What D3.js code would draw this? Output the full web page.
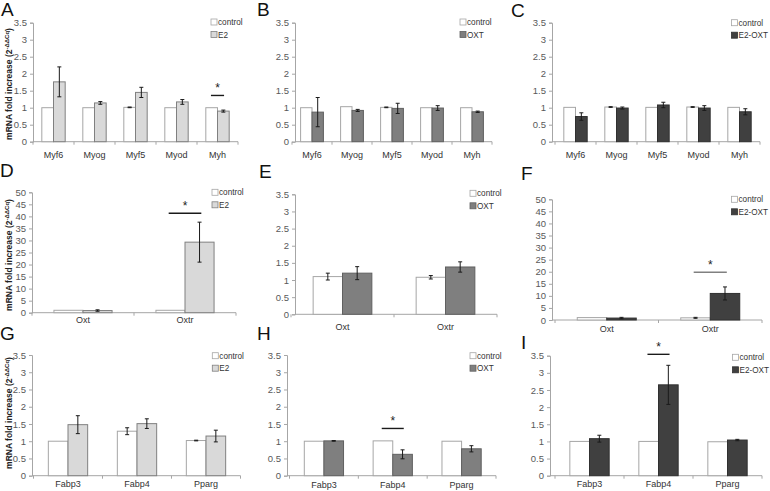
<!DOCTYPE html>
<html><head><meta charset="utf-8">
<script src="https://cdn.jsdelivr.net/npm/d3@7"></script>
<style>body{margin:0;background:#fff}svg{display:block;font-family:"Liberation Sans",Arial,sans-serif}</style>
</head><body><svg id="c" width="770" height="491"></svg>
<script>
// ---------- DATA ----------
const muscleGenes = ["Myf6","Myog","Myf5","Myod","Myh"];
const oxtGenes = ["Oxt","Oxtr"];
const adipoGenes = ["Fabp3","Fabp4","Pparg"];
const ticksLow = [0,0.5,1,1.5,2,2.5,3,3.5];
const ticksHigh = [0,5,10,15,20,25,30,35,40,45,50];
const seriesNames = ["control","E2","OXT","E2-OXT"];

const A_control = [1.0,1.0,1.01,1.0,1.0];
const A_control_err = [0,0,0.01,0,0];
const A_treat = [1.76,1.14,1.45,1.17,0.90];
const A_treat_err = [0.44,0.04,0.15,0.07,0.03];

const B_control = [1.0,1.03,1.01,1.0,1.0];
const B_control_err = [0,0,0.01,0,0];
const B_treat = [0.87,0.92,0.98,0.99,0.88];
const B_treat_err = [0.43,0.03,0.15,0.07,0.02];

const C_control = [1.01,1.02,1.01,1.02,1.01];
const C_control_err = [0,0.01,0,0.01,0];
const C_treat = [0.74,0.99,1.08,0.99,0.88];
const C_treat_err = [0.11,0.03,0.08,0.07,0.09];

const D_control = [1.0,1.0];
const D_control_err = [0,0];
const D_treat = [0.9,29.3];
const D_treat_err = [0.3,8.3];

const E_control = [1.1,1.08];
const E_control_err = [0.1,0.05];
const E_treat = [1.2,1.38];
const E_treat_err = [0.19,0.15];

const F_control = [1.0,0.9];
const F_control_err = [0,0.2];
const F_treat = [0.8,11.0];
const F_treat_err = [0.3,2.7];

const G_control = [1.0,1.29,1.02];
const G_control_err = [0,0.1,0.01];
const G_treat = [1.48,1.51,1.15];
const G_treat_err = [0.26,0.14,0.17];

const H_control = [1.0,1.01,1.0];
const H_control_err = [0,0,0];
const H_treat = [1.01,0.62,0.78];
const H_treat_err = [0.01,0.13,0.09];

const I_control = [1.0,1.0,0.99];
const I_control_err = [0,0,0];
const I_treat = [1.08,2.65,1.04];
const I_treat_err = [0.1,0.57,0.02];

// significance marks: panel, gene, line level (data units)
const sigPanels = ["A","D","F","H","I"];
const sigGenes = ["Myh","Oxtr","Oxtr","Fabp4","Fabp4"];
const sigLevels = [1.36,41.3,19.8,1.37,3.54];

// ---------- LAYOUT ----------
const colors = {"control":"#ffffff","E2":"#d9d9d9","OXT":"#7f7f7f","E2-OXT":"#404040"};
const strokes = {"control":"#a6a6a6","E2":"#808080","OXT":"#606060","E2-OXT":"#303030"};

const panels = [
 {id:"A",genes:muscleGenes,ctl:A_control,ctlE:A_control_err,tr:A_treat,trE:A_treat_err,treat:"E2",ticks:ticksLow,
  ax:33,x0:33,x1:238,y0:141.7,yT:22.7,labDy:16,leg:[211,22],lab:[1,16],ytitle:[9,84]},
 {id:"B",genes:muscleGenes,ctl:B_control,ctlE:B_control_err,tr:B_treat,trE:B_treat_err,treat:"OXT",ticks:ticksLow,
  ax:295,x0:292,x1:492,y0:141.7,yT:22.7,labDy:16,leg:[460,22],lab:[257,16]},
 {id:"C",genes:muscleGenes,ctl:C_control,ctlE:C_control_err,tr:C_treat,trE:C_treat_err,treat:"E2-OXT",ticks:ticksLow,
  ax:552,x0:555,x1:760,y0:141.7,yT:22.7,labDy:16,leg:[731.5,22.7],lab:[511,17]},
 {id:"D",genes:oxtGenes,ctl:D_control,ctlE:D_control_err,tr:D_treat,trE:D_treat_err,treat:"E2",ticks:ticksHigh,
  ax:32,x0:32,x1:236,y0:312.7,yT:192.3,labDy:10.5,leg:[212,192.3],lab:[0,177],ytitle:[9,255]},
 {id:"E",genes:oxtGenes,ctl:E_control,ctlE:E_control_err,tr:E_treat,trE:E_treat_err,treat:"OXT",ticks:ticksLow,
  ax:295,x0:291,x1:497,y0:314.3,yT:194.3,labDy:16,leg:[470,193.3],lab:[259,178]},
 {id:"F",genes:oxtGenes,ctl:F_control,ctlE:F_control_err,tr:F_treat,trE:F_treat_err,treat:"E2-OXT",ticks:ticksHigh,
  ax:552,x0:555,x1:762,y0:320,yT:199.3,labDy:12,leg:[731.5,199.3],lab:[521,180]},
 {id:"G",genes:adipoGenes,ctl:G_control,ctlE:G_control_err,tr:G_treat,trE:G_treat_err,treat:"E2",ticks:ticksLow,
  ax:32,x0:33.5,x1:240.5,y0:475.7,yT:355,labDy:11,leg:[212.3,355.7],lab:[0,340],ytitle:[9,413]},
 {id:"H",genes:adipoGenes,ctl:H_control,ctlE:H_control_err,tr:H_treat,trE:H_treat_err,treat:"OXT",ticks:ticksLow,
  ax:287,x0:289.5,x1:496,y0:475.7,yT:355,labDy:12,leg:[470,355.7],lab:[257,340]},
 {id:"I",genes:adipoGenes,ctl:I_control,ctlE:I_control_err,tr:I_treat,trE:I_treat_err,treat:"E2-OXT",ticks:ticksLow,
  ax:550,x0:555,x1:762,y0:475.7,yT:355.7,labDy:11,leg:[732.5,357.3],lab:[521,349]}
];

const svg = d3.select("#c");
const axisColor = "#a6a6a6";

panels.forEach(p => {
  const g = svg.append("g");
  const maxV = p.ticks[p.ticks.length-1];
  const y = d3.scaleLinear().domain([0,maxV]).range([p.y0,p.yT]);
  const x = d3.scaleBand().domain(p.genes).range([p.x0,p.x1]).padding(0);
  const bw = x.step()*0.285;

  // y axis
  const yAxis = d3.axisLeft(y).tickValues(p.ticks).tickSize(3).tickPadding(3).tickFormat(d3.format("~g"));
  const ya = g.append("g").attr("transform",`translate(${p.ax},0)`).call(yAxis);
  ya.select(".domain").attr("stroke",axisColor);
  ya.selectAll(".tick line").attr("stroke",axisColor);
  ya.selectAll("text").attr("fill","#595959").attr("font-size","9.5px").attr("font-family","Liberation Sans, Arial, sans-serif");

  // x axis line with category dividers
  g.append("line").attr("x1",p.ax).attr("x2",p.x1).attr("y1",p.y0).attr("y2",p.y0).attr("stroke",axisColor);
  const bounds = p.genes.map(d=>x(d)).concat([p.x1]);
  g.selectAll(".xt").data(bounds).enter().append("line")
    .attr("x1",d=>d).attr("x2",d=>d).attr("y1",p.y0).attr("y2",p.y0+3).attr("stroke",axisColor);
  g.selectAll(".xl").data(p.genes).enter().append("text")
    .attr("x",d=>x(d)+x.step()/2).attr("y",p.y0+p.labDy)
    .attr("text-anchor","middle").attr("font-size","9px").attr("fill","#333").text(d=>d);

  // bars
  const series = [
    {name:"control",vals:p.ctl,errs:p.ctlE,off:-bw},
    {name:p.treat,vals:p.tr,errs:p.trE,off:0}
  ];
  series.forEach(s => {
    p.genes.forEach((gene,i) => {
      const cx = x(gene)+x.step()/2 + s.off;
      g.append("rect").attr("x",cx).attr("width",bw)
        .attr("y",y(s.vals[i])).attr("height",p.y0-y(s.vals[i]))
        .attr("fill",colors[s.name]).attr("stroke",strokes[s.name]).attr("stroke-width",1);
    });
  });
  series.forEach(s => {
    p.genes.forEach((gene,i) => {
      const e = s.errs[i];
      if (!e) return;
      const mx = x(gene)+x.step()/2 + s.off + bw/2;
      const lo = y(s.vals[i]-e), hi = y(s.vals[i]+e);
      g.append("line").attr("x1",mx).attr("x2",mx).attr("y1",lo).attr("y2",hi).attr("stroke","#1a1a1a").attr("stroke-width",1);
      [lo,hi].forEach(yy => g.append("line").attr("x1",mx-2).attr("x2",mx+2).attr("y1",yy).attr("y2",yy).attr("stroke","#1a1a1a").attr("stroke-width",1));
    });
  });

  // significance
  sigPanels.forEach((sp,k) => {
    if (sp !== p.id) return;
    const gene = sigGenes[k];
    const c = x(gene)+x.step()/2;
    const yy = y(sigLevels[k]);
    const halfW = x.step()*0.16;
    g.append("line").attr("x1",c-halfW).attr("x2",c+halfW).attr("y1",yy).attr("y2",yy)
      .attr("stroke", p.id==="F" ? "#808080" : "#1a1a1a").attr("stroke-width",1.4);
    g.append("text").attr("x",c).attr("y",yy-3).attr("text-anchor","middle").attr("font-size","12px").attr("fill","#222").text("*");
  });

  // legend
  [ "control", p.treat ].forEach((nm,k) => {
    const ly = p.leg[1] + k*12.5;
    g.append("rect").attr("x",p.leg[0]).attr("y",ly-3).attr("width",6).attr("height",6)
      .attr("fill",colors[nm]).attr("stroke",strokes[nm]).attr("stroke-width",0.8);
    g.append("text").attr("x",p.leg[0]+7).attr("y",ly+3).attr("font-size","8.2px").attr("fill","#333").text(nm);
  });

  // panel label
  g.append("text").attr("x",p.lab[0]).attr("y",p.lab[1]).attr("font-size","19px").attr("fill","#111").text(p.id);

  // y title
  if (p.ytitle) {
    const t = g.append("text").attr("transform",`translate(${p.ytitle[0]+3},${p.ytitle[1]}) rotate(-90)`)
      .attr("text-anchor","middle").attr("font-size","8.5px").attr("font-weight","bold").attr("fill","#222");
    t.append("tspan").text("mRNA fold increase (2");
    t.append("tspan").attr("dy",-3).attr("font-size","6px").text("-ΔΔCq");
    t.append("tspan").attr("dy",3).text(")");
  }
});
</script></body></html>
